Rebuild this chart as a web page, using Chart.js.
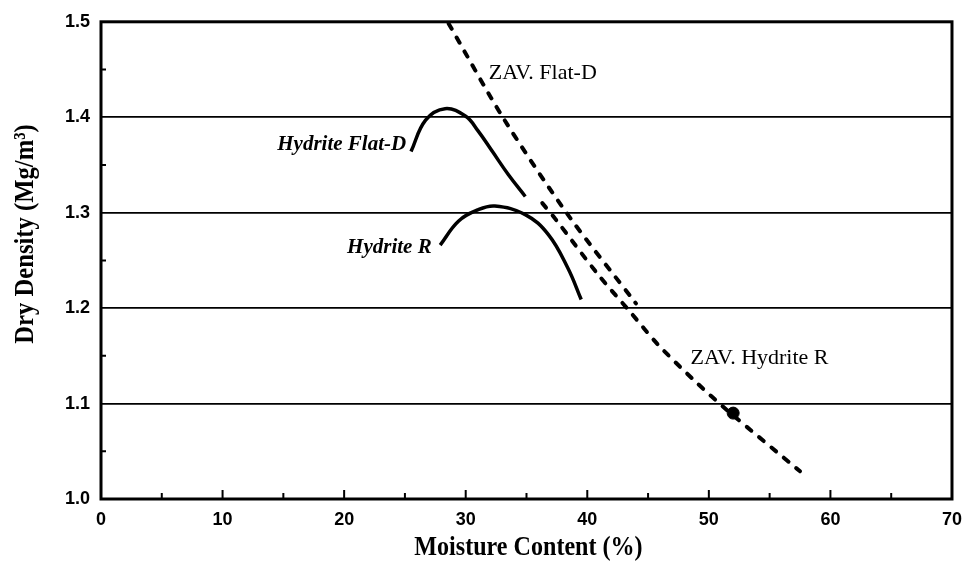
<!DOCTYPE html>
<html>
<head>
<meta charset="utf-8">
<script src="https://cdn.jsdelivr.net/npm/chart.js@4"></script>
<style>
  html, body { margin: 0; padding: 0; background: #fff; }
  #wrap { width: 972px; height: 563px; }
</style>
</head>
<body>
<div id="wrap"><canvas id="chart"></canvas></div>
<script>
// compaction curves (moisture %, dry density Mg/m3)
const flatDX = [25.5, 26.7, 28.3, 30.0, 31.0, 32.2, 33.5, 34.9];
const flatDY = [1.364, 1.397, 1.409, 1.401, 1.386, 1.364, 1.340, 1.317];
const hydRX = [27.9, 29.4, 31.0, 32.4, 34.9, 36.8, 38.4, 39.5];
const hydRY = [1.266, 1.291, 1.303, 1.307, 1.298, 1.277, 1.242, 1.209];
// zero air voids lines
const zavFlatDX = [28.6, 33.1, 38.4, 44.0];
const zavFlatDY = [1.498, 1.399, 1.298, 1.205];
const zavHydRX = [36.3, 37.4, 40.9, 43.6, 45.8, 48.9, 51.6, 57.5];
const zavHydRY = [1.310, 1.293, 1.235, 1.195, 1.162, 1.123, 1.092, 1.029];
const dotX = [52.0];
const dotY = [1.090];

const xTicks = [0, 10, 20, 30, 40, 50, 60, 70];
const yTicks = [1.0, 1.1, 1.2, 1.3, 1.4, 1.5];
const xTitle = "Moisture Content (%)";
const yTitle = "Dry Density (Mg/m³)";

// text labels placed in data units
const notes = [
  { text: "ZAV. Flat-D", x: 31.9, y: 1.446, align: "left", font: "22px 'Liberation Serif'" },
  { text: "ZAV. Hydrite R", x: 48.5, y: 1.147, align: "left", font: "22px 'Liberation Serif'" },
  { text: "Hydrite Flat-D", x: 25.1, y: 1.371, align: "right", font: "italic bold 21px 'Liberation Serif'" },
  { text: "Hydrite R", x: 27.2, y: 1.263, align: "right", font: "italic bold 21px 'Liberation Serif'" },
];

const toPts = (xs, ys) => xs.map((x, i) => ({ x: x, y: ys[i] }));

const decor = {
  id: "decor",
  afterDatasetsDraw(chart) {
    const { ctx, chartArea: a, scales } = chart;
    const xs = scales.x, ys = scales.y;
    ctx.save();
    ctx.strokeStyle = "#000";
    // inward ticks, major and minor
    ctx.lineWidth = 2;
    ctx.beginPath();
    for (let v = 5; v < 70; v += 5) {
      const px = xs.getPixelForValue(v);
      const len = v % 10 === 0 ? 9 : 6;
      ctx.moveTo(px, a.bottom);
      ctx.lineTo(px, a.bottom - len);
    }
    for (let v = 1.05; v < 1.5; v += 0.1) {
      const py = ys.getPixelForValue(v);
      ctx.moveTo(a.left, py);
      ctx.lineTo(a.left + 5, py);
    }
    ctx.stroke();
    // frame
    ctx.lineWidth = 3;
    ctx.strokeRect(a.left, a.top, a.right - a.left, a.bottom - a.top);
    // labels
    ctx.fillStyle = "#000";
    ctx.textBaseline = "middle";
    notes.forEach(n => {
      ctx.font = n.font;
      ctx.textAlign = n.align;
      ctx.fillText(n.text, xs.getPixelForValue(n.x), ys.getPixelForValue(n.y));
    });
    // axis titles: heavy, narrow serif like the scan
    ctx.font = "bold 28px 'Liberation Serif'";
    ctx.textAlign = "center";
    ctx.textBaseline = "alphabetic";
    ctx.save();
    ctx.translate((a.left + a.right) / 2 + 2, 555);
    ctx.scale(0.86, 1);
    ctx.fillText(xTitle, 0, 0);
    ctx.restore();
    ctx.save();
    ctx.translate(33, 234);
    ctx.rotate(-Math.PI / 2);
    ctx.scale(0.88, 1);
    ctx.fillText(yTitle, 0, 0);
    ctx.restore();
    ctx.restore();
  }
};

const solid = { borderColor: "#000", borderWidth: 3.5, pointRadius: 0, showLine: true, tension: 0.4, fill: false };
const dashed = { borderColor: "#000", borderWidth: 4, pointRadius: 0, showLine: true, tension: 0.3,
  borderDash: [6, 10], borderCapStyle: "round", fill: false };

new Chart(document.getElementById("chart"), {
  type: "scatter",
  data: {
    datasets: [
      Object.assign({ label: "Hydrite Flat-D", data: toPts(flatDX, flatDY) }, solid),
      Object.assign({ label: "Hydrite R", data: toPts(hydRX, hydRY) }, solid),
      Object.assign({ label: "ZAV. Flat-D", data: toPts(zavFlatDX, zavFlatDY) }, dashed),
      Object.assign({ label: "ZAV. Hydrite R", data: toPts(zavHydRX, zavHydRY) }, dashed),
      { label: "point", data: toPts(dotX, dotY), pointRadius: 6, backgroundColor: "#000", borderColor: "#000", showLine: false },
    ],
  },
  options: {
    responsive: true,
    maintainAspectRatio: false,
    animation: false,
    layout: { padding: { top: 20, right: 17, left: 0, bottom: 0 } },
    plugins: { legend: { display: false }, tooltip: { enabled: false } },
    scales: {
      x: {
        type: "linear",
        min: 0,
        max: 70,
        afterBuildTicks: s => { s.ticks = xTicks.map(v => ({ value: v })); },
        afterFit: s => { s.height = 64; },
        grid: { display: false, drawTicks: false },
        border: { display: false },
        ticks: { color: "#000", padding: 10, font: { family: "Liberation Sans", weight: "bold", size: 18 } },
      },
      y: {
        type: "linear",
        min: 1.0,
        max: 1.5,
        afterBuildTicks: s => { s.ticks = yTicks.map(v => ({ value: v })); },
        afterFit: s => { s.width = 101; },
        grid: { color: "#000", lineWidth: 1.8, drawTicks: false },
        border: { display: false },
        ticks: {
          color: "#000",
          padding: 11,
          font: { family: "Liberation Sans", weight: "bold", size: 18 },
          callback: v => v.toFixed(1),
        },
      },
    },
  },
  plugins: [decor],
});
</script>
</body>
</html>
